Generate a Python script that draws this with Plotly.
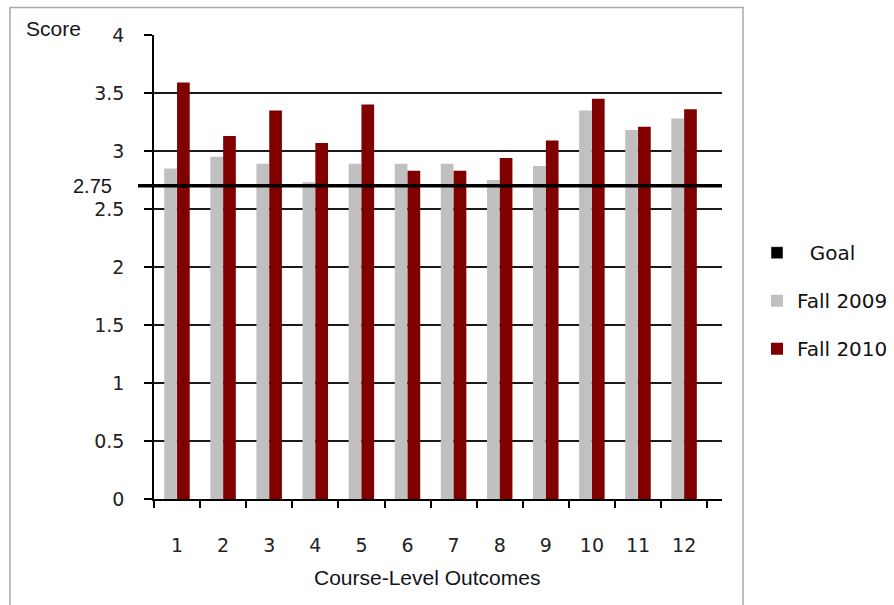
import plotly.graph_objects as go

# ---- data ----
outcomes = [1, 2, 3, 4, 5, 6, 7, 8, 9, 10, 11, 12]
outcome_labels = ["1", "2", "3", "4", "5", "6", "7", "8", "9", "10", "11", "12"]
fall_2009 = [2.85, 2.95, 2.89, 2.73, 2.89, 2.89, 2.89, 2.75, 2.87, 3.35, 3.18, 3.28]
fall_2010 = [3.59, 3.13, 3.35, 3.07, 3.40, 2.83, 2.83, 2.94, 3.09, 3.45, 3.21, 3.36]
goal_line_value = 2.70      # where the goal line is drawn
goal_label = "2.75"         # its printed label
y_ticks = [0, 0.5, 1, 1.5, 2, 2.5, 3, 3.5, 4]
y_tick_labels = ["0", "0.5", "1", "1.5", "2", "2.5", "3", "3.5", "4"]

# ---- layout geometry (pixels) ----
W, H = 894, 605
L, R, T, B = 154, 722, 34.5, 499.3
PW, PH = R - L, B - T


def px(x):
    return (x - L) / PW


def py(y):
    return (B - y) / PH


CAT_W = 46.1
x_max = 0.5 + PW / CAT_W

fig = go.Figure()

# legend-only entry for the goal
fig.add_trace(go.Bar(
    x=[None], y=[None], name="\u00a0\u00a0Goal", marker_color="#000000",
    legendgroup="g", legendrank=1,
))
fig.add_trace(go.Bar(
    x=outcomes, y=fall_2009, name="Fall 2009", marker_color="#C0C0C0",
    marker_line_width=0, offset=-0.278, width=0.275,
    legendgroup="a", legendrank=2,
))
fig.add_trace(go.Bar(
    x=outcomes, y=fall_2010, name="Fall 2010", marker_color="#800000",
    marker_line_width=0, offset=0.0, width=0.275,
    legendgroup="b", legendrank=3,
))

# goal line
fig.add_shape(
    type="line", xref="paper", yref="y",
    x0=px(138), x1=1.0, y0=goal_line_value, y1=goal_line_value,
    line=dict(color="#000000", width=3.5), layer="above",
)
# outer chart frame
fig.add_shape(
    type="rect", xref="paper", yref="paper",
    x0=px(10), x1=px(743), y0=py(615), y1=py(7),
    line=dict(color="#A8A8A8", width=1.5), layer="below",
)

text_color = "#141420"
fig.add_annotation(
    text=goal_label, xref="paper", yref="y", x=px(114), y=goal_line_value,
    xanchor="right", yanchor="middle", showarrow=False,
    font=dict(family="Liberation Sans", size=20, color=text_color),
)
fig.add_annotation(
    text="Score", xref="paper", yref="paper", x=px(24), y=py(28),
    xanchor="left", yanchor="middle", showarrow=False,
    font=dict(family="Liberation Sans", size=21, color=text_color),
)
fig.add_annotation(
    text="Course-Level Outcomes", xref="paper", yref="paper", x=px(427), y=py(578),
    xanchor="center", yanchor="middle", showarrow=False,
    font=dict(family="Liberation Sans", size=21, color=text_color),
)

fig.update_layout(
    width=W, height=H,
    margin=dict(l=L, r=W - R, t=T, b=H - B, autoexpand=False),
    paper_bgcolor="white", plot_bgcolor="white",
    barmode="overlay",
    showlegend=True,
    legend=dict(
        x=px(757), y=py(233), xanchor="left", yanchor="top",
        font=dict(family="DejaVu Sans", size=20, color="#111111"),
        tracegroupgap=19, bgcolor="rgba(0,0,0,0)",
    ),
    xaxis=dict(
        range=[0.5, x_max], tickmode="array", tickvals=outcomes, ticktext=outcome_labels,
        ticks="", showgrid=False, zeroline=False,
        showline=True, linecolor="#000000", linewidth=1.5,
        tickfont=dict(family="DejaVu Sans", size=19, color="#222222"),
        ticklabelstandoff=28,
        minor=dict(tickmode="array", tickvals=[v - 0.5 for v in outcomes] + [outcomes[-1] + 0.5],
                   ticks="outside", ticklen=7, tickcolor="#000000", tickwidth=1.5, showgrid=False),
    ),
    yaxis=dict(
        range=[0, 4], tickmode="array", tickvals=y_ticks, ticktext=y_tick_labels,
        ticks="outside", ticklen=8, tickcolor="#000000", tickwidth=1.5,
        showgrid=True, gridcolor="#1a1a1a", gridwidth=1.5, zeroline=False,
        showline=True, linecolor="#000000", linewidth=1.5,
        tickfont=dict(family="DejaVu Sans", size=19, color="#222222"),
        ticklabelstandoff=16,
    ),
)

fig.write_html(
    "out.html",
    config={"displayModeBar": False},
    post_script="document.body.style.margin='0';document.body.style.overflow='hidden';",
)
